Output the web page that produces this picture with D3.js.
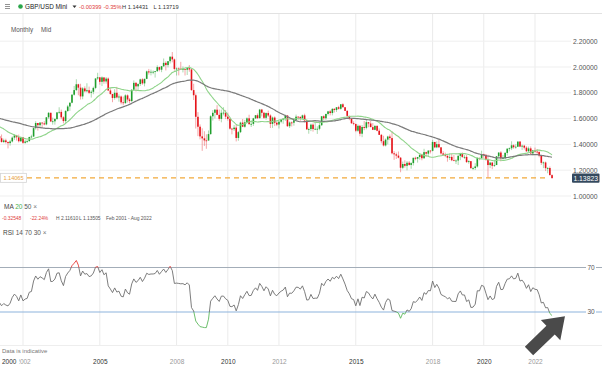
<!DOCTYPE html>
<html><head><meta charset="utf-8">
<script src="https://cdn.jsdelivr.net/npm/d3@7"></script>
<style>
body{margin:0;background:#fff;}
svg{display:block;font-family:"Liberation Sans",Arial,sans-serif;}
</style></head><body>
<svg id="c" width="602" height="366"></svg>
<script>
// ---------- DATA ----------
const startYear = 2001, startMonth = 1; // Feb 2001 (0-based month)
// monthly closes before the visible range (Jan 1996 - Jan 2001), used for MA / RSI warm-up
const histCloses = [
1.5050,1.5330,1.5270,1.5080,1.5500,1.5520,1.5550,1.5590,1.5650,1.6310,1.6830,1.7120,
1.6050,1.6320,1.6430,1.6240,1.6380,1.6640,1.6370,1.6110,1.6130,1.6760,1.6880,1.6450,
1.6370,1.6450,1.6770,1.6710,1.6310,1.6670,1.6340,1.6770,1.7000,1.6790,1.6470,1.6640,
1.6460,1.6050,1.6110,1.6090,1.6120,1.5770,1.6080,1.6050,1.6470,1.6440,1.5900,1.6150,
1.6160,1.5760,1.5910,1.5580,1.4950,1.5130,1.4960,1.4510,1.4780,1.4530,1.4230,1.4930,
1.4637];
const closes = [
1.4475,1.4190,1.4310,1.4180,1.4100,1.4230,1.4525,1.4700,1.4555,1.4245,1.4550,
1.4125,1.4220,1.4250,1.4570,1.4610,1.5260,1.5660,1.5490,1.5690,1.5630,1.5550,1.6100,
1.6450,1.5780,1.5790,1.5970,1.6480,1.6520,1.6100,1.5810,1.6590,1.6940,1.7230,1.7850,
1.8210,1.8660,1.8400,1.7720,1.8340,1.8120,1.8200,1.8000,1.8080,1.8380,1.9110,1.9200,
1.8850,1.9190,1.8880,1.9100,1.8180,1.7910,1.7600,1.8000,1.7640,1.7710,1.7260,1.7200,
1.7800,1.7480,1.7360,1.8240,1.8770,1.8500,1.8680,1.9040,1.8730,1.9080,1.9660,1.9580,
1.9630,1.9630,1.9680,1.9990,1.9790,2.0060,2.0320,2.0150,2.0450,2.0800,2.0590,1.9850,
1.9880,1.9860,1.9840,1.9850,1.9790,1.9910,1.9810,1.8210,1.7810,1.6140,1.5370,1.4620,
1.4470,1.4310,1.4300,1.4800,1.6180,1.6450,1.6690,1.6290,1.5980,1.6450,1.6460,1.6150,
1.5980,1.5220,1.5180,1.5300,1.4500,1.4950,1.5690,1.5370,1.5710,1.6020,1.5570,1.5590,
1.6020,1.6260,1.6040,1.6700,1.6450,1.6060,1.6430,1.6240,1.5590,1.6080,1.5680,1.5540,
1.5760,1.5910,1.6000,1.6240,1.5410,1.5700,1.5680,1.5870,1.6150,1.6140,1.6020,1.6250,
1.5860,1.5170,1.5190,1.5530,1.5190,1.5210,1.5210,1.5490,1.6180,1.6030,1.6360,1.6560,
1.6430,1.6750,1.6670,1.6880,1.6760,1.7110,1.6880,1.6600,1.6210,1.6000,1.5640,1.5580,
1.5060,1.5440,1.4830,1.5350,1.5280,1.5720,1.5620,1.5340,1.5130,1.5430,1.5060,1.4740,
1.4250,1.3920,1.4370,1.4610,1.4490,1.3310,1.3230,1.3130,1.2970,1.2190,1.2480,1.2340,
1.2580,1.2410,1.2550,1.2960,1.2890,1.3020,1.3200,1.2930,1.3400,1.3280,1.3520,1.3500,
1.4190,1.3770,1.4020,1.3770,1.3300,1.3200,1.3120,1.2970,1.3030,1.2770,1.2750,1.2750,
1.3110,1.3260,1.3030,1.3030,1.2630,1.2700,1.2160,1.2170,1.2290,1.2940,1.2930,1.3250,
1.3200,1.2820,1.2400,1.2590,1.2340,1.2400,1.3080,1.3370,1.2920,1.2940,1.3340,1.3670,
1.3700,1.3930,1.3780,1.3820,1.4220,1.3830,1.3900,1.3750,1.3470,1.3690,1.3300,1.3530,
1.3440,1.3420,1.3140,1.2570,1.2600,1.2160,1.2170,1.1620,1.1382];
const highs = [
1.4790,1.4770,1.4450,1.4440,1.4230,1.4350,1.4620,1.4800,1.4740,1.4760,1.4620,
1.4520,1.4360,1.4350,1.4600,1.4750,1.5300,1.5800,1.5650,1.5720,1.5700,1.5800,1.6120,
1.6500,1.6460,1.6080,1.6030,1.6500,1.6880,1.6700,1.6180,1.6660,1.7060,1.7260,1.7900,
1.8530,1.9050,1.8700,1.8700,1.8440,1.8500,1.8740,1.8480,1.8200,1.8480,1.9130,1.9550,
1.9200,1.9270,1.9190,1.9220,1.9190,1.8350,1.7910,1.8280,1.8460,1.7880,1.7790,1.7710,
1.7890,1.7880,1.7600,1.8270,1.8960,1.8840,1.8740,1.9100,1.9130,1.9100,1.9720,1.9850,
1.9800,1.9730,1.9690,2.0130,2.0030,2.0080,2.0660,2.0450,2.0460,2.0810,2.1160,2.0660,
1.9970,1.9970,2.0400,2.0040,1.9860,1.9990,2.0150,1.9840,1.8700,1.7940,1.6500,1.5550,
1.5250,1.5020,1.4780,1.5080,1.6260,1.6660,1.6740,1.7040,1.6700,1.6700,1.6880,1.6670,
1.6460,1.6040,1.5280,1.5500,1.5510,1.5040,1.5760,1.5970,1.5900,1.6100,1.6300,1.5860,
1.6060,1.6280,1.6400,1.6750,1.6750,1.6520,1.6480,1.6620,1.6330,1.6160,1.6170,1.5780,
1.5800,1.5960,1.6000,1.6300,1.6280,1.5780,1.5780,1.5910,1.6310,1.6180,1.6140,1.6310,
1.6380,1.5890,1.5300,1.5610,1.5630,1.5750,1.5400,1.5720,1.6190,1.6260,1.6380,1.6600,
1.6670,1.6820,1.6820,1.6880,1.6990,1.7120,1.7190,1.6890,1.6640,1.6230,1.6020,1.5790,
1.5620,1.5550,1.5510,1.5500,1.5820,1.5930,1.5690,1.5820,1.5660,1.5510,1.5500,1.5240,
1.4810,1.4670,1.4460,1.4670,1.4770,1.5020,1.3480,1.3370,1.3450,1.3020,1.2670,1.2770,
1.2710,1.2710,1.2620,1.2970,1.3050,1.3030,1.3210,1.3270,1.3660,1.3440,1.3540,1.3550,
1.4350,1.4150,1.4240,1.4380,1.3800,1.3470,1.3360,1.3140,1.3300,1.3260,1.3180,1.2840,
1.3220,1.3350,1.3380,1.3170,1.3180,1.2780,1.2710,1.2270,1.2540,1.3010,1.2990,1.3510,
1.3280,1.3200,1.3200,1.2650,1.2650,1.2810,1.3100,1.3380,1.3480,1.3180,1.3400,1.3680,
1.3760,1.4240,1.4000,1.4010,1.4220,1.4250,1.3980,1.3960,1.3860,1.3830,1.3840,1.3570,
1.3750,1.3640,1.3440,1.3170,1.2670,1.2670,1.2250,1.2290,1.1680];
const lows = [
1.4366,1.4137,1.4100,1.4060,1.3687,1.3900,1.4150,1.4350,1.4300,1.4150,1.4190,
1.4050,1.4050,1.4100,1.4230,1.4470,1.4580,1.5150,1.5070,1.5300,1.5300,1.5480,1.5480,
1.5980,1.5730,1.5530,1.5530,1.5890,1.6370,1.5950,1.5630,1.5600,1.6520,1.6600,1.7180,
1.7780,1.8130,1.7810,1.7480,1.7500,1.8040,1.8040,1.7900,1.7630,1.7890,1.8280,1.9000,
1.8630,1.8520,1.8700,1.8710,1.8130,1.7850,1.7270,1.7470,1.7560,1.7310,1.7100,1.7040,
1.7150,1.7250,1.7200,1.7280,1.8200,1.8100,1.8130,1.8530,1.8620,1.8500,1.9060,1.9410,
1.9350,1.9440,1.9180,1.9610,1.9660,1.9600,2.0000,1.9730,1.9970,2.0270,2.0360,1.9720,
1.9340,1.9350,1.9770,1.9580,1.9340,1.9380,1.9630,1.8150,1.7440,1.5230,1.4640,1.4390,
1.3500,1.3880,1.3660,1.4380,1.4750,1.5850,1.6010,1.6260,1.5830,1.5710,1.6250,1.5960,
1.5840,1.5150,1.4780,1.5040,1.4230,1.4280,1.4880,1.5340,1.5290,1.5650,1.5530,1.5350,
1.5430,1.5970,1.5970,1.5990,1.6170,1.5970,1.5910,1.6120,1.5270,1.5280,1.5420,1.5420,
1.5230,1.5640,1.5600,1.5820,1.5360,1.5270,1.5390,1.5450,1.5860,1.5920,1.5830,1.6000,
1.5700,1.5120,1.4830,1.5030,1.4990,1.5110,1.4810,1.5100,1.5430,1.5890,1.5900,1.6240,
1.6250,1.6250,1.6470,1.6520,1.6700,1.6690,1.6870,1.6590,1.6050,1.5880,1.5590,1.5480,
1.4950,1.4950,1.4630,1.4560,1.5100,1.5170,1.5330,1.5330,1.5110,1.5100,1.5020,1.4730,
1.4080,1.3840,1.3840,1.4000,1.4330,1.3230,1.2800,1.2870,1.2920,1.1840,1.2080,1.2200,
1.1990,1.2350,1.2110,1.2360,1.2770,1.2590,1.2810,1.2770,1.2880,1.3020,1.3040,1.3300,
1.3460,1.3710,1.3710,1.3760,1.3200,1.3100,1.3010,1.2660,1.2790,1.2700,1.2720,1.2480,
1.2400,1.2780,1.2950,1.2870,1.2560,1.2500,1.2120,1.2010,1.2020,1.2200,1.2770,1.2900,
1.2960,1.2730,1.1410,1.2160,1.2080,1.2250,1.2470,1.2980,1.2680,1.2860,1.2850,1.3140,
1.3460,1.3560,1.3670,1.3670,1.3800,1.3790,1.3570,1.3600,1.3410,1.3410,1.3190,1.3160,
1.3360,1.3270,1.3000,1.2410,1.2160,1.1930,1.1760,1.1600,1.1372];

const priceTicks = [1.0, 1.2, 1.4, 1.6, 1.8, 2.0, 2.2];
const yearTicks = [2002, 2005, 2008, 2010, 2012, 2015, 2018, 2020, 2022];
const majorYears = [2005, 2010, 2015, 2020];
const rsiLevels = [70, 30];
const maPeriods = [20, 50];
const rsiPeriod = 14;
const lastPrice = 1.13823;
const lineLevel = 1.14065;

// ---------- SETUP ----------
const svg = d3.select("#c");
const W = 602, H = 366;
const dates = closes.map((_, i) => new Date(startYear, startMonth + i, 1));
const opens = closes.map((_, i) => i === 0 ? histCloses[histCloses.length - 1] : closes[i - 1]);

const x = d3.scaleTime().domain([new Date(2002, 0, 1), new Date(2022, 0, 1)]).range([23, 535]);
const y = d3.scaleLinear().domain([1.0, 2.2]).range([196, 41.2]);
const yr = d3.scaleLinear().domain([30, 70]).range([312, 267.5]);

const defs = svg.append("defs");
defs.append("clipPath").attr("id", "pclip").append("rect").attr("x", 0).attr("y", 14).attr("width", 571).attr("height", 188);
defs.append("clipPath").attr("id", "rHigh").append("rect").attr("x", 0).attr("y", 240).attr("width", 602).attr("height", yr(70) - 240);
defs.append("clipPath").attr("id", "rMid").append("rect").attr("x", 0).attr("y", yr(70)).attr("width", 602).attr("height", yr(30) - yr(70));
defs.append("clipPath").attr("id", "rLow").append("rect").attr("x", 0).attr("y", yr(30)).attr("width", 602).attr("height", 40);

svg.append("rect").attr("width", W).attr("height", H).attr("fill", "#fff");

// ---------- GRID ----------
const grid = svg.append("g");
grid.selectAll("line.v").data(yearTicks).join("line")
  .attr("x1", d => x(new Date(d, 0, 1))).attr("x2", d => x(new Date(d, 0, 1)))
  .attr("y1", 14).attr("y2", 345).attr("stroke", "#ebebeb").attr("stroke-width", 1);
grid.selectAll("line.h").data(priceTicks).join("line")
  .attr("x1", 0).attr("x2", 571).attr("y1", d => y(d)).attr("y2", d => y(d))
  .attr("stroke", "#efefef").attr("stroke-width", 1);
svg.append("line").attr("x1", 0).attr("x2", W).attr("y1", 13.5).attr("y2", 13.5).attr("stroke", "#e2e2e2");
svg.append("line").attr("x1", 0).attr("x2", W).attr("y1", 345.5).attr("y2", 345.5).attr("stroke", "#eeeeee");

// ---------- HEADER ----------
const hdr = svg.append("g");
[4.5, 6.5, 8.5].forEach(v => hdr.append("line").attr("x1", 5).attr("x2", 10).attr("y1", v).attr("y2", v).attr("stroke", "#888").attr("stroke-width", 0.9));
hdr.append("circle").attr("cx", 20.5).attr("cy", 6.5).attr("r", 2.3).attr("fill", "#2aa64a");
hdr.append("text").attr("x", 25).attr("y", 9).attr("font-size", 6.4).attr("fill", "#222").text("GBP/USD Mini");
hdr.append("path").attr("d", "M72.5,5.5 L76.5,5.5 L74.5,8 Z").attr("fill", "#333");
hdr.append("text").attr("x", 79).attr("y", 9).attr("font-size", 5.7).attr("fill", "#e03a3a").text("-0.00399");
hdr.append("text").attr("x", 103.5).attr("y", 9).attr("font-size", 5.7).attr("fill", "#e03a3a").text("-0.35%");
hdr.append("text").attr("x", 122).attr("y", 9).attr("font-size", 5.7).attr("fill", "#333").text("H 1.14431");
hdr.append("text").attr("x", 153.5).attr("y", 9).attr("font-size", 5.7).attr("fill", "#333").text("L 1.13719");
svg.append("text").attr("x", 11).attr("y", 31.5).attr("font-size", 6.3).attr("fill", "#555").text("Monthly");
svg.append("text").attr("x", 41).attr("y", 31.5).attr("font-size", 6.3).attr("fill", "#555").text("Mid");

// ---------- CANDLES ----------
const pg = svg.append("g").attr("clip-path", "url(#pclip)");
const up = "#1f9e2c", dn = "#e5141b";
const cg = pg.selectAll("g.c").data(closes).join("g");
cg.append("line")
  .attr("x1", (d, i) => x(dates[i])).attr("x2", (d, i) => x(dates[i]))
  .attr("y1", (d, i) => y(Math.max(highs[i], opens[i], d)))
  .attr("y2", (d, i) => y(Math.min(lows[i], opens[i], d)))
  .attr("stroke", (d, i) => d >= opens[i] ? up : dn).attr("stroke-width", 0.7).attr("stroke-opacity", 0.55);
cg.append("rect")
  .attr("x", (d, i) => x(dates[i]) - 0.8).attr("width", 1.6)
  .attr("y", (d, i) => y(Math.max(opens[i], d)))
  .attr("height", (d, i) => Math.max(0.8, y(Math.min(opens[i], d)) - y(Math.max(opens[i], d))))
  .attr("fill", (d, i) => d >= opens[i] ? up : dn);

// ---------- MOVING AVERAGES ----------
const all = histCloses.concat(closes);
const off = histCloses.length;
function sma(p) {
  return closes.map((_, i) => {
    const k = off + i;
    return d3.mean(all.slice(k - p + 1, k + 1));
  });
}
const maColors = {20: "#8fd48a", 50: "#7a7a7a"};
maPeriods.forEach(p => {
  const vals = sma(p);
  pg.append("path").datum(vals)
    .attr("d", d3.line().x((d, i) => x(dates[i])).y(d => y(d)).curve(d3.curveMonotoneX))
    .attr("fill", "none").attr("stroke", maColors[p]).attr("stroke-width", p === 20 ? 1.1 : 1.2);
});

// ---------- LEVEL LINE & PRICE LABELS ----------
svg.append("line").attr("x1", 27).attr("x2", 549).attr("y1", y(lineLevel)).attr("y2", y(lineLevel))
  .attr("stroke", "#f2a93b").attr("stroke-width", 1.4).attr("stroke-dasharray", "5,4");
svg.append("rect").attr("x", 0.5).attr("y", y(lineLevel) - 4.5).attr("width", 26).attr("height", 9)
  .attr("fill", "#fff").attr("stroke", "#d4d4d4").attr("stroke-width", 0.8);
svg.append("text").attr("x", 13.5).attr("y", y(lineLevel) + 2).attr("text-anchor", "middle")
  .attr("font-size", 5.6).attr("fill", "#e8a040").text(lineLevel.toFixed(5));

const yAxis = svg.append("g").attr("transform", "translate(571,0)")
  .call(d3.axisRight(y).tickValues(priceTicks).tickFormat(d3.format(".5f")).tickSize(0).tickPadding(2));
yAxis.select(".domain").remove();
yAxis.selectAll("text").attr("font-size", 6.8).attr("fill", "#555").attr("font-family", "Liberation Sans, Arial, sans-serif");

svg.append("rect").attr("x", 572).attr("y", y(lastPrice) - 4.6).attr("width", 27.5).attr("height", 9.2).attr("rx", 1).attr("fill", "#34495e");
svg.append("text").attr("x", 585.7).attr("y", y(lastPrice) + 2.4).attr("text-anchor", "middle")
  .attr("font-size", 6.8).attr("fill", "#fff").text(lastPrice.toFixed(5));

// ---------- LEGENDS ----------
const ma = svg.append("text").attr("x", 4).attr("y", 209).attr("font-size", 6.5).attr("fill", "#444");
ma.append("tspan").text("MA ");
ma.append("tspan").attr("fill", "#4caf50").text("20 ");
ma.append("tspan").attr("fill", "#555").text("50 ");
ma.append("tspan").attr("fill", "#777").text("\u00d7");
const st = svg.append("g").attr("font-size", 4.9);
st.append("text").attr("x", 2).attr("y", 220).attr("fill", "#e04040").text("-0.32548");
st.append("text").attr("x", 30).attr("y", 220).attr("fill", "#e04040").text("-22.24%");
st.append("text").attr("x", 56).attr("y", 220).attr("fill", "#555").text("H 2.11610");
st.append("text").attr("x", 79).attr("y", 220).attr("fill", "#555").text("L 1.13505");
st.append("text").attr("x", 106).attr("y", 220).attr("fill", "#555").text("Feb 2001 - Aug 2022");
const rl = svg.append("text").attr("x", 3).attr("y", 235).attr("font-size", 6.5).attr("fill", "#444");
rl.append("tspan").text("RSI ");
rl.append("tspan").attr("fill", "#555").text("14 ");
rl.append("tspan").attr("fill", "#555").text("70 ");
rl.append("tspan").attr("fill", "#555").text("30 ");
rl.append("tspan").attr("fill", "#777").text("\u00d7");

// ---------- RSI ----------
function rsiCalc(arr, p) {
  const out = new Array(arr.length).fill(null);
  let ag = 0, al = 0;
  for (let i = 1; i <= p; i++) {
    const ch = arr[i] - arr[i - 1];
    ag += Math.max(ch, 0); al += Math.max(-ch, 0);
  }
  ag /= p; al /= p;
  out[p] = 100 - 100 / (1 + ag / al);
  for (let i = p + 1; i < arr.length; i++) {
    const ch = arr[i] - arr[i - 1];
    ag = (ag * (p - 1) + Math.max(ch, 0)) / p;
    al = (al * (p - 1) + Math.max(-ch, 0)) / p;
    out[i] = al === 0 ? 100 : 100 - 100 / (1 + ag / al);
  }
  return out;
}
const rsiAll = rsiCalc(all, rsiPeriod);
const rsi = rsiAll.slice(off);

const lvlColor = {70: "#a3adb8", 30: "#8db3dc"};
rsiLevels.forEach(v => {
  svg.append("line").attr("x1", 0).attr("x2", 586).attr("y1", yr(v)).attr("y2", yr(v)).attr("stroke", lvlColor[v]).attr("stroke-width", 1);
  svg.append("line").attr("x1", 596).attr("x2", 602).attr("y1", yr(v)).attr("y2", yr(v)).attr("stroke", lvlColor[v]).attr("stroke-width", 1);
  svg.append("text").attr("x", 591).attr("y", yr(v) + 2.3).attr("text-anchor", "middle").attr("font-size", 6.5).attr("fill", "#555").text(v);
});
const rline = d3.line().x((d, i) => x(dates[i])).y(d => yr(d));
[["rMid", "#6e6e6e"], ["rHigh", "#e53935"], ["rLow", "#5cb85c"]].forEach(([cp, col]) => {
  svg.append("path").datum(rsi).attr("clip-path", `url(#${cp})`).attr("d", rline)
    .attr("fill", "none").attr("stroke", col).attr("stroke-width", 0.9);
});

// ---------- X AXIS ----------
const xAxis = svg.append("g").attr("transform", "translate(0,359.5)")
  .call(d3.axisBottom(x).tickValues(yearTicks.map(v => new Date(v, 0, 1))).tickFormat(d3.timeFormat("%Y")).tickSize(0).tickPadding(0));
xAxis.select(".domain").remove();
xAxis.selectAll("text").attr("font-size", 6.5).attr("font-family", "Liberation Sans, Arial, sans-serif")
  .attr("fill", d => majorYears.includes(d.getFullYear()) ? "#333" : "#999");
svg.append("rect").attr("x", 0).attr("y", 357).attr("width", 19).attr("height", 9).attr("fill", "#fff");
svg.append("text").attr("x", 2).attr("y", 364.2).attr("font-size", 6.5).attr("fill", "#333").text("2000");
svg.append("text").attr("x", 2).attr("y", 353).attr("font-size", 6).attr("fill", "#777").text("Data is indicative");

// ---------- ARROW ----------
svg.append("path")
  .attr("d", "M0,-6 L30,-6 L30,-14 L50,0 L30,14 L30,6 L0,6 Z")
  .attr("transform", "translate(529,351) rotate(-44)")
  .attr("fill", "#4a4a4a");
</script>
</body></html>
